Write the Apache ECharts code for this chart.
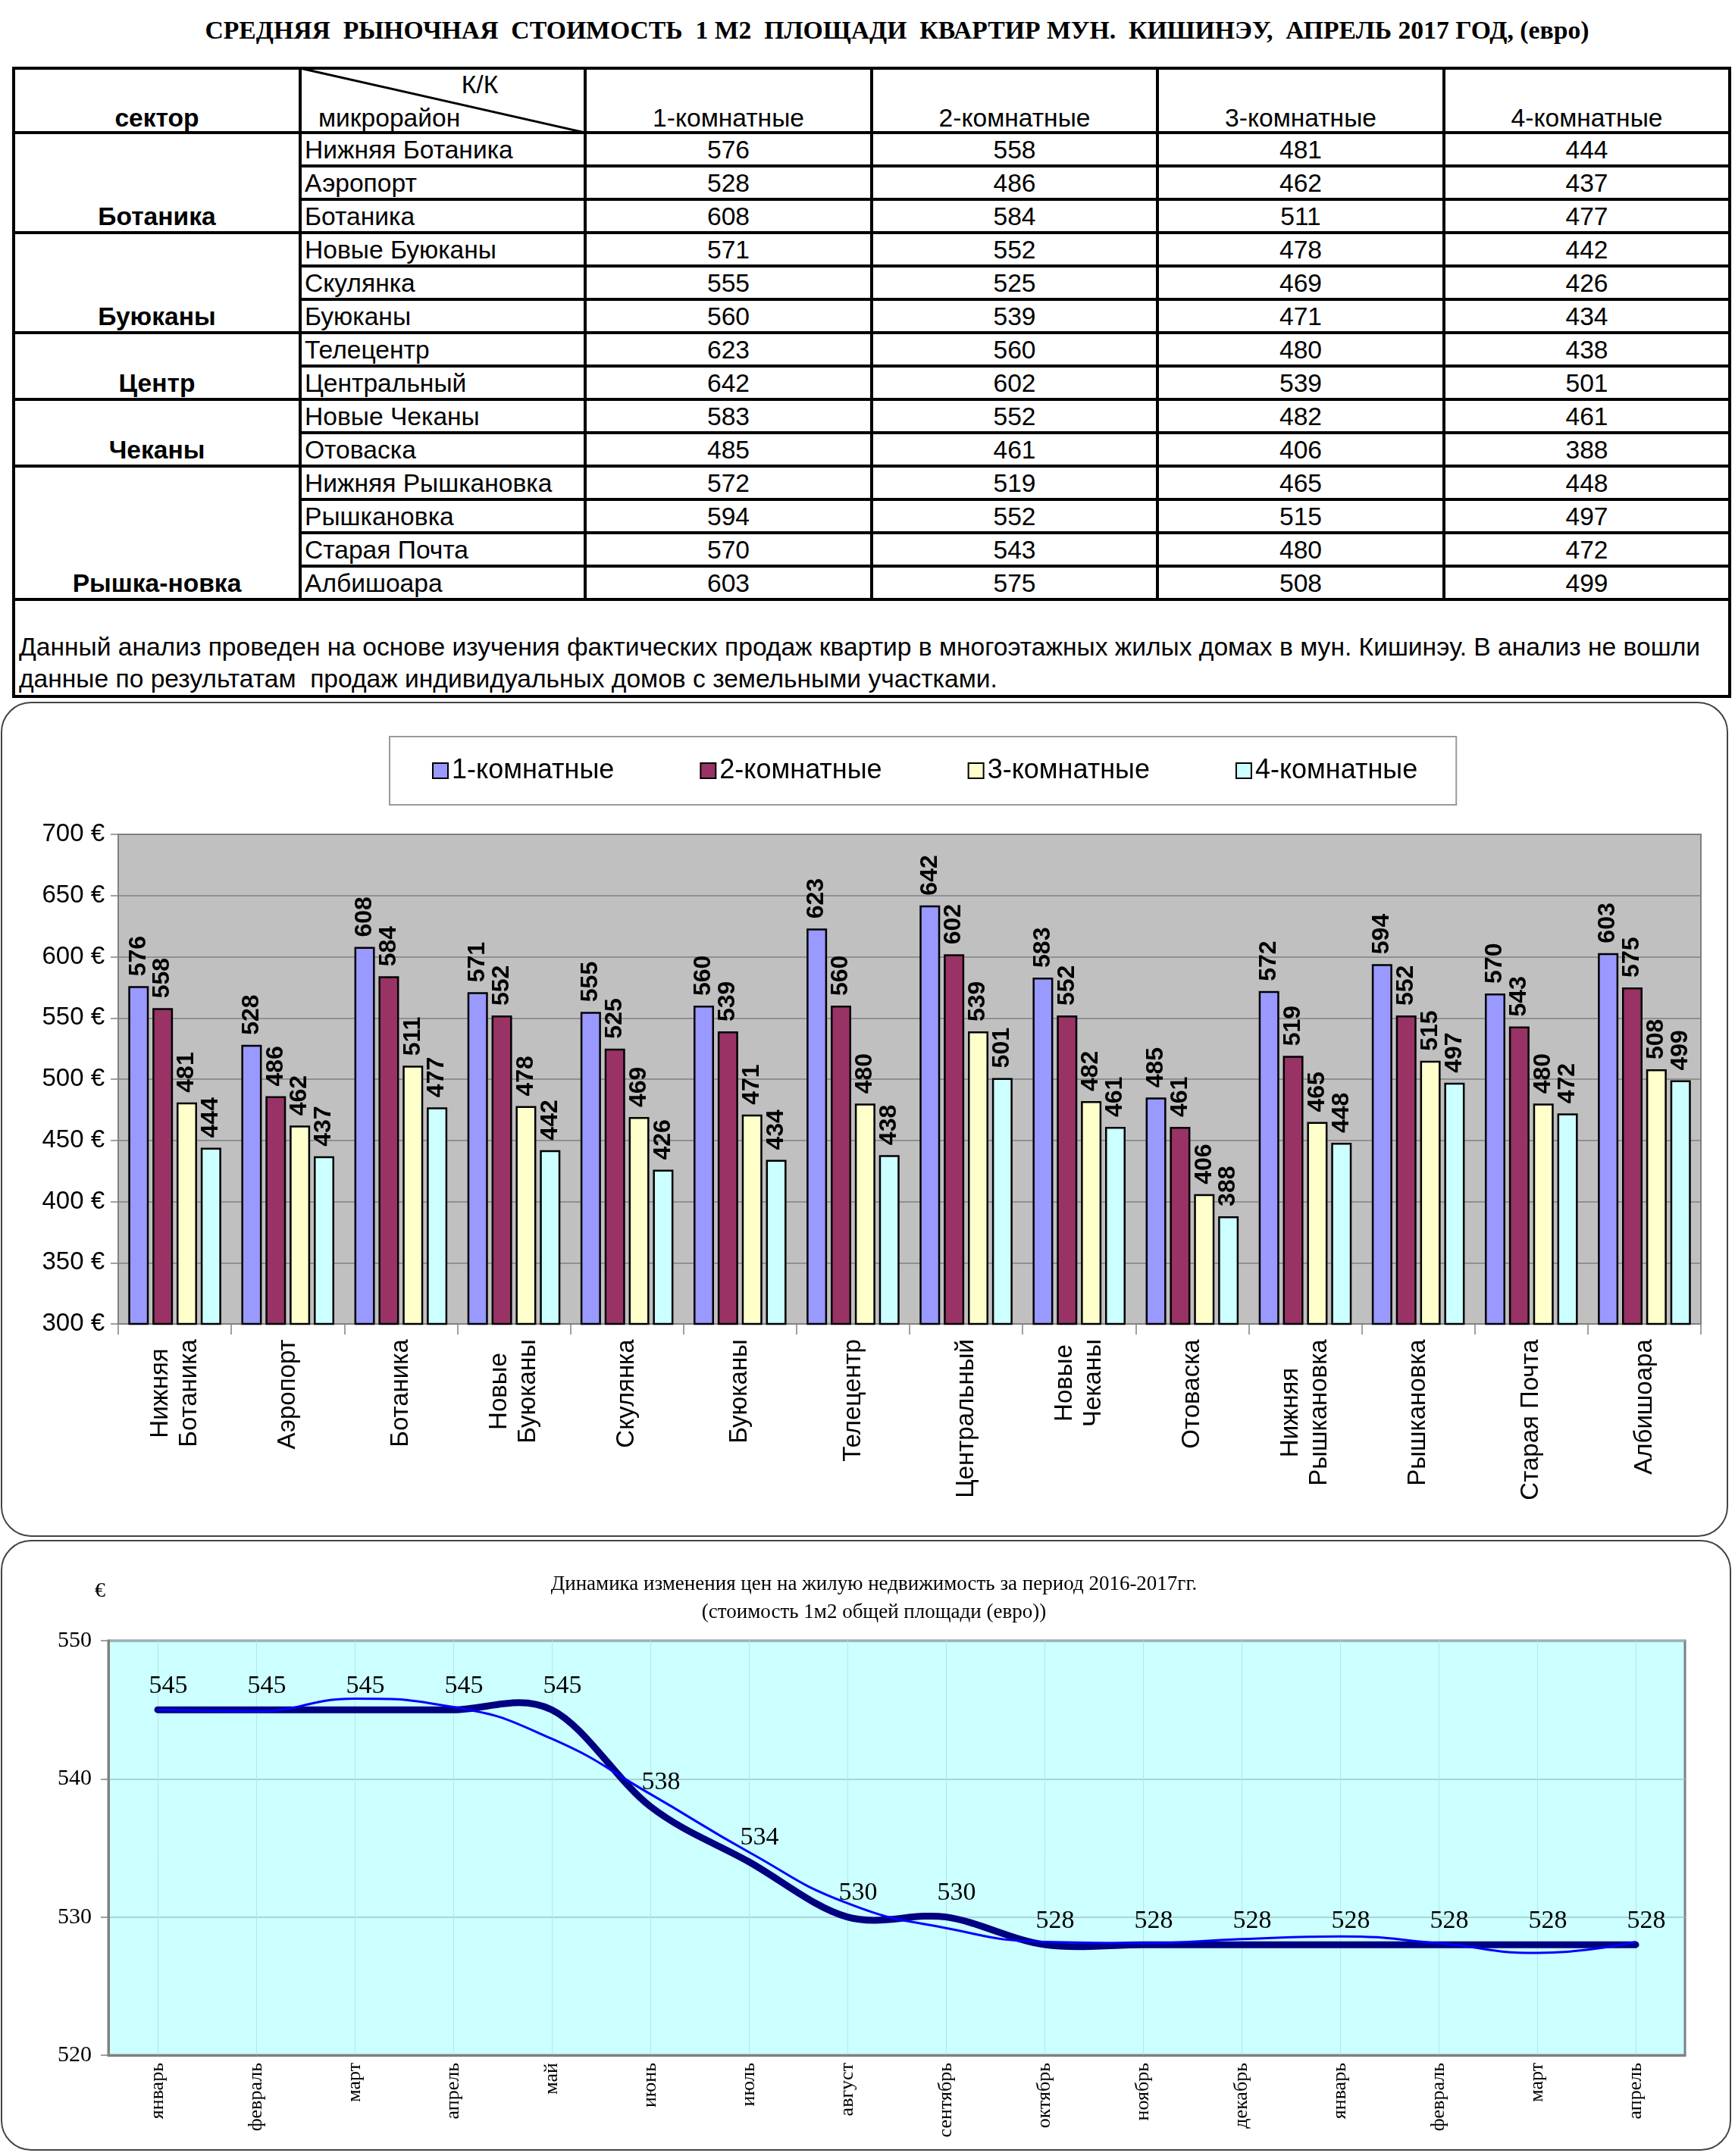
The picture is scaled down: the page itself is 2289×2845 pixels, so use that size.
<!DOCTYPE html>
<html><head><meta charset="utf-8">
<script src="https://cdn.jsdelivr.net/npm/echarts@6/dist/echarts.min.js"></script>
<style>
html,body{margin:0;padding:0;background:#fff;}
body{width:2289px;height:2845px;position:relative;overflow:hidden;font-family:"Liberation Sans",Arial,sans-serif;color:#000;}
.t{position:absolute;white-space:pre;line-height:50px;height:50px;}
.ln{position:absolute;background:#000;}
#title{position:absolute;left:39px;top:19px;width:2289px;text-align:center;font:bold 33.7px "Liberation Serif",serif;white-space:pre;line-height:42px;}
#bar{position:absolute;left:0;top:926px;width:2282px;height:1102px;}
#line{position:absolute;left:0;top:2031px;width:2285px;height:808px;}
.panel{position:absolute;border:2px solid #444;border-radius:40px;pointer-events:none;box-sizing:border-box;}
</style>
</head><body>
<div id="title">СРЕДНЯЯ  РЫНОЧНАЯ  СТОИМОСТЬ  1 М2  ПЛОЩАДИ  КВАРТИР МУН.  КИШИНЭУ,  АПРЕЛЬ 2017 ГОД, (евро)</div>
<div id="tableLayer"></div>
<div id="bar"></div>
<div id="line"></div>
<div class="panel" style="left:1px;top:926px;width:2279px;height:1102px;"></div>
<div class="panel" style="left:1px;top:2032px;width:2283px;height:806px;"></div>
<script>
// ---------------- data ----------------
const sectors = ['Ботаника', 'Буюканы', 'Центр', 'Чеканы', 'Рышка-новка'];
const sectorSizes = [3, 3, 2, 2, 4];
const districts = ['Нижняя Ботаника', 'Аэропорт', 'Ботаника', 'Новые Буюканы', 'Скулянка', 'Буюканы', 'Телецентр', 'Центральный', 'Новые Чеканы', 'Отоваска', 'Нижняя Рышкановка', 'Рышкановка', 'Старая Почта', 'Албишоара'];
const districtAxisLabels = ['Нижняя\nБотаника', 'Аэропорт', 'Ботаника', 'Новые\nБуюканы', 'Скулянка', 'Буюканы', 'Телецентр', 'Центральный', 'Новые\nЧеканы', 'Отоваска', 'Нижняя\nРышкановка', 'Рышкановка', 'Старая Почта', 'Албишоара'];
const roomTypes = ['1-комнатные', '2-комнатные', '3-комнатные', '4-комнатные'];
const oneRoom = [576, 528, 608, 571, 555, 560, 623, 642, 583, 485, 572, 594, 570, 603];
const twoRoom = [558, 486, 584, 552, 525, 539, 560, 602, 552, 461, 519, 552, 543, 575];
const threeRoom = [481, 462, 511, 478, 469, 471, 480, 539, 482, 406, 465, 515, 480, 508];
const fourRoom = [444, 437, 477, 442, 426, 434, 438, 501, 461, 388, 448, 497, 472, 499];
const barYTicks = [300, 700, 50]; // min, max, step
const months = ['январь', 'февраль', 'март', 'апрель', 'май', 'июнь', 'июль', 'август', 'сентябрь', 'октябрь', 'ноябрь', 'декабрь', 'январь', 'февраль', 'март', 'апрель'];
const prices = [545, 545, 545, 545, 545, 538, 534, 530, 530, 528, 528, 528, 528, 528, 528, 528];
const trendValues = [545.0, 544.9, 545.8, 545.2, 542.9, 538.9, 534.7, 531.0, 529.2, 528.2, 528.1, 528.4, 528.6, 528.1, 527.4, 528.2];
const lineYTicks = [520, 550, 10];
const noteLines = ['Данный анализ проведен на основе изучения фактических продаж квартир в многоэтажных жилых домах в мун. Кишинэу. В анализ не вошли', 'данные по результатам  продаж индивидуальных домов с земельными участками.'];
const lineTitle = 'Динамика изменения цен на жилую недвижимость за период 2016-2017гг.';
const lineSubtitle = '(стоимость 1м2 общей площади (евро))';

// ---------------- table (HTML) ----------------
const layer = document.getElementById('tableLayer');
const colX = [18, 396, 772, 1150, 1527, 1905, 2282];
const tTop = 90, headBottom = 175, rowH = 44, noteBottom = 919;
const rowsBottom = headBottom + rowH * districts.length;
const LW = 4;
const FS = 33.6;
function hline(x1, x2, y) {
  const d = document.createElement('div'); d.className = 'ln';
  d.style.left = (x1 - LW / 2) + 'px'; d.style.top = (y - LW / 2) + 'px';
  d.style.width = (x2 - x1 + LW) + 'px'; d.style.height = LW + 'px'; layer.appendChild(d);
}
function vline(x, y1, y2) {
  const d = document.createElement('div'); d.className = 'ln';
  d.style.left = (x - LW / 2) + 'px'; d.style.top = (y1 - LW / 2) + 'px';
  d.style.width = LW + 'px'; d.style.height = (y2 - y1 + LW) + 'px'; layer.appendChild(d);
}
function text(str, x, cy, align, bold) {
  const d = document.createElement('div'); d.className = 't';
  d.textContent = str;
  d.style.fontSize = FS + 'px';
  if (bold) d.style.fontWeight = 'bold';
  d.style.top = (cy - 25) + 'px';
  if (align === 'center') { d.style.left = (x - 300) + 'px'; d.style.width = '600px'; d.style.textAlign = 'center'; }
  else { d.style.left = x + 'px'; }
  layer.appendChild(d);
}
hline(colX[0], colX[6], tTop);
hline(colX[0], colX[6], headBottom);
hline(colX[0], colX[6], rowsBottom);
hline(colX[0], colX[6], noteBottom);
vline(colX[0], tTop, noteBottom);
vline(colX[6], tTop, noteBottom);
for (let c = 1; c < 6; c++) vline(colX[c], tTop, rowsBottom);
const groupEnds = new Set();
let acc = 0; sectorSizes.forEach(s => { acc += s; groupEnds.add(acc); });
for (let i = 1; i < districts.length; i++) {
  const y = headBottom + rowH * i;
  hline(groupEnds.has(i) ? colX[0] : colX[1], colX[6], y);
}
const svgNS = 'http://www.w3.org/2000/svg';
const svg = document.createElementNS(svgNS, 'svg');
svg.setAttribute('width', '2289'); svg.setAttribute('height', '200');
svg.style.position = 'absolute'; svg.style.left = '0'; svg.style.top = '0';
const dl = document.createElementNS(svgNS, 'line');
dl.setAttribute('x1', colX[1]); dl.setAttribute('y1', tTop); dl.setAttribute('x2', colX[2]); dl.setAttribute('y2', headBottom);
dl.setAttribute('stroke', '#000'); dl.setAttribute('stroke-width', '3');
svg.appendChild(dl); layer.appendChild(svg);
text('сектор', (colX[0] + colX[1]) / 2, 156, 'center', true);
text('К/К', 633, 112, 'center', false);
text('микрорайон', 420, 156, 'left', false);
roomTypes.forEach((r, i) => text(r, (colX[i + 2] + colX[i + 3]) / 2, 156, 'center', false));
const vals = [oneRoom, twoRoom, threeRoom, fourRoom];
districts.forEach((d, i) => {
  const cy = headBottom + rowH * i + rowH / 2 + 1;
  text(d, colX[1] + 6, cy, 'left', false);
  vals.forEach((arr, k) => text(String(arr[i]), (colX[k + 2] + colX[k + 3]) / 2, cy, 'center', false));
});
acc = 0;
sectors.forEach((s, i) => {
  acc += sectorSizes[i];
  const cy = headBottom + rowH * (acc - 1) + rowH / 2 + 1;
  text(s, (colX[0] + colX[1]) / 2, cy, 'center', true);
});
text(noteLines[0], colX[0] + 7, 854, 'left', false);
text(noteLines[1], colX[0] + 7, 896, 'left', false);

// ---------------- bar chart ----------------
const barColors = ['#9999FF', '#993366', '#FFFFCC', '#CCFFFF'];
// centred multi-line category labels: every line of a label gets a token as wide as its longest line
const measureCtx = document.createElement('canvas').getContext('2d');
measureCtx.font = '33px "Liberation Sans"';
const axisRich = {};
districtAxisLabels.forEach((lab, i) => {
  const w = Math.max(...lab.split('\n').map(s => measureCtx.measureText(s).width));
  axisRich['l' + i] = {width: Math.ceil(w), align: 'center', fontSize: 33, lineHeight: 38, color: '#000', fontFamily: 'Liberation Sans'};
});
const barChart = echarts.init(document.getElementById('bar'), null, {renderer: 'canvas'});
barChart.setOption({
  animation: false,
  textStyle: {fontFamily: 'Liberation Sans'},
  legend: {
    left: 514, top: 46, padding: [27, 51, 27, 56],
    borderColor: '#9a9a9a', borderWidth: 2, backgroundColor: '#fff',
    itemWidth: 20, itemHeight: 20, itemGap: 113, icon: 'rect',
    textStyle: {fontSize: 36, color: '#000', fontFamily: 'Liberation Sans'},
    data: roomTypes
  },
  grid: {left: 156, right: 38, top: 175, bottom: 281, show: true, backgroundColor: '#C0C0C0', borderColor: '#808080', borderWidth: 2},
  xAxis: {
    type: 'category', data: districtAxisLabels,
    axisLine: {lineStyle: {color: '#808080', width: 2}},
    axisTick: {show: true, length: 14, lineStyle: {color: '#808080', width: 1.5}},
    axisLabel: {rotate: 90, fontSize: 33, color: '#000', margin: 20, interval: 0, lineHeight: 38, fontFamily: 'Liberation Sans',
      formatter: (v, idx) => v.split('\n').map(s => '{l' + idx + '|' + s + '}').join('\n'), rich: axisRich}
  },
  yAxis: {
    type: 'value', min: barYTicks[0], max: barYTicks[1], interval: barYTicks[2],
    axisLine: {show: true, lineStyle: {color: '#808080', width: 2}},
    axisTick: {show: true, length: 10, lineStyle: {color: '#808080', width: 1.5}},
    axisLabel: {formatter: '{value} €', fontSize: 33, color: '#000', margin: 18, fontFamily: 'Liberation Sans'},
    splitLine: {lineStyle: {color: '#808080', width: 1.5}}
  },
  series: roomTypes.map((name, i) => ({
    type: 'bar', name, data: vals[i], barWidth: 27, barGap: '18%',
    itemStyle: {color: barColors[i], borderColor: '#000', borderWidth: 2.5},
    label: {show: true, position: 'top', rotate: 90, align: 'left', verticalAlign: 'middle', distance: 13,
      fontSize: 32, fontWeight: 'bold', color: '#000', fontFamily: 'Liberation Sans'}
  }))
});

// ---------------- line chart ----------------
// Excel-style smoothed curve (Catmull-Rom -> Bezier) through the data points, placed by the axes' scales
function renderSmooth(params, api) {
  if (params.dataIndex !== 0) return null;
  const pts = prices.map((v, i) => api.coord([i, v]));
  let d = 'M' + pts[0][0] + ' ' + pts[0][1];
  for (let i = 0; i < pts.length - 1; i++) {
    const p0 = pts[Math.max(i - 1, 0)], p1 = pts[i], p2 = pts[i + 1], p3 = pts[Math.min(i + 2, pts.length - 1)];
    const c1 = [p1[0] + (p2[0] - p0[0]) / 6, p1[1] + (p2[1] - p0[1]) / 6];
    const c2 = [p2[0] - (p3[0] - p1[0]) / 6, p2[1] - (p3[1] - p1[1]) / 6];
    d += ' C' + c1[0] + ' ' + c1[1] + ' ' + c2[0] + ' ' + c2[1] + ' ' + p2[0] + ' ' + p2[1];
  }
  return {type: 'path', shape: {pathData: d},
    style: {stroke: '#000080', lineWidth: 9, fill: 'none', lineCap: 'round', lineJoin: 'round'}};
}
const lineChart = echarts.init(document.getElementById('line'), null, {renderer: 'canvas'});
lineChart.setOption({
  animation: false,
  textStyle: {fontFamily: 'Liberation Serif'},
  title: [
    {text: lineTitle + '\n' + lineSubtitle, left: 1148, textAlign: 'center', top: 36,
      textStyle: {fontSize: 27, fontWeight: 'normal', color: '#000', lineHeight: 37, fontFamily: 'Liberation Serif'}},
    {text: '€', left: 120, top: 50, textStyle: {fontSize: 28, fontWeight: 'normal', color: '#000', fontFamily: 'Liberation Serif'}}
  ],
  grid: {left: 143, right: 62, top: 134, bottom: 127, show: true, backgroundColor: '#CCFFFF', borderColor: '#808080', borderWidth: 3},
  xAxis: {
    type: 'category', data: months, boundaryGap: true,
    axisLine: {lineStyle: {color: '#808080', width: 3}},
    axisTick: {show: false, alignWithLabel: true},
    axisLabel: {rotate: 90, fontSize: 26, color: '#000', margin: 10, interval: 0, fontFamily: 'Liberation Serif'},
    splitLine: {show: true, alignWithLabel: true, interval: 0, lineStyle: {color: '#b5e6e6', width: 1}}
  },
  yAxis: {
    type: 'value', min: lineYTicks[0], max: lineYTicks[1], interval: lineYTicks[2],
    axisLine: {show: true, lineStyle: {color: '#808080', width: 3}},
    axisTick: {show: true, length: 10, lineStyle: {color: '#808080', width: 1.5}},
    axisLabel: {fontSize: 30, color: '#000', margin: 22, fontFamily: 'Liberation Serif'},
    splitLine: {lineStyle: {color: '#9cc7c9', width: 1.5}}
  },
  series: [
    {type: 'custom', name: 'цена-кривая', data: prices.map((v, i) => [i, v]), encode: {x: 0, y: 1},
      renderItem: renderSmooth, clip: false, z: 2, silent: true},
    {type: 'line', name: 'тренд', data: trendValues, smooth: 0.5, symbol: 'none',
      lineStyle: {color: '#0000FF', width: 3}, z: 3},
    {type: 'line', name: 'цена', data: prices, symbol: 'circle', symbolSize: 1, showSymbol: true,
      itemStyle: {color: '#000080'}, lineStyle: {opacity: 0, width: 0},
      label: {show: true, position: 'top', distance: 14, offset: [14, 0], fontSize: 34, color: '#000', fontFamily: 'Liberation Serif'},
      z: 4}
  ]
});
</script>
</body></html>
